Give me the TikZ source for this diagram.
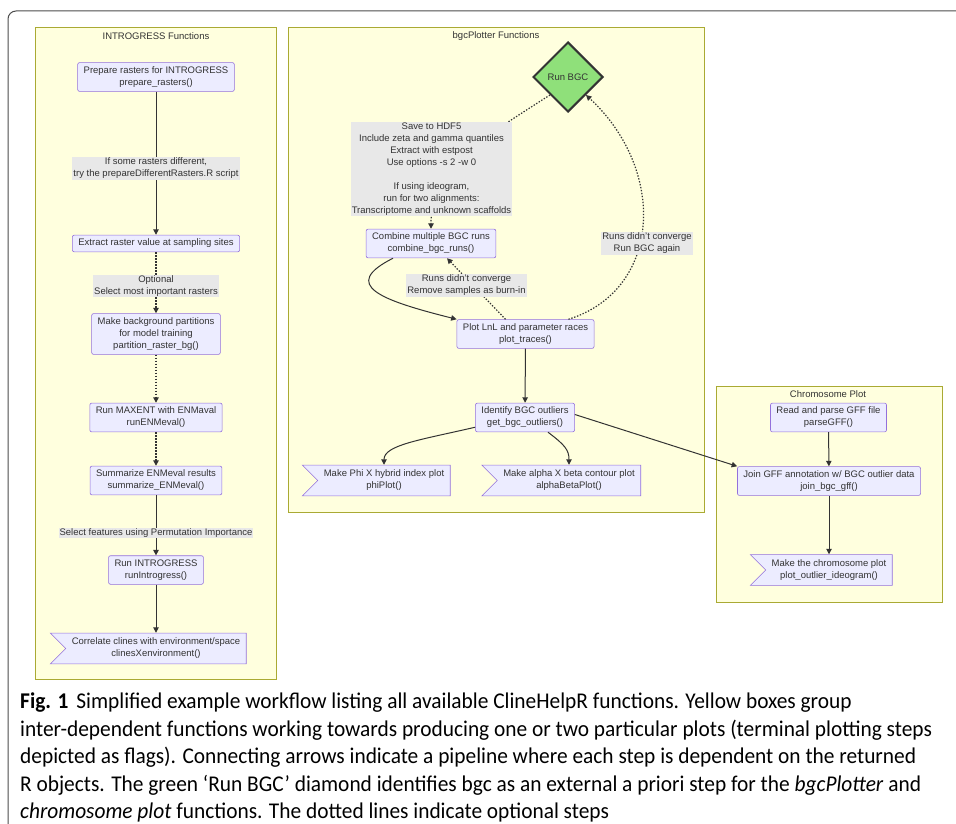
\documentclass[tikz,border=0pt]{standalone}
\usepackage{fontspec}
\setmainfont{Liberation Sans}
\newfontfamily\capfont[FakeStretch=0.95]{Carlito}
\usetikzlibrary{arrows.meta,shapes.geometric,shapes.symbols}
\definecolor{grpfill}{HTML}{FFFFDE}
\definecolor{grpline}{HTML}{AAAA33}
\definecolor{boxfill}{HTML}{ECECFF}
\definecolor{boxline}{HTML}{9370DB}
\definecolor{lblfill}{HTML}{E8E8E8}
\definecolor{edgecol}{HTML}{333333}
\definecolor{bgcgreen}{HTML}{8FE07A}
\begin{document}
\begin{tikzpicture}[
  x=1pt,
  y=-1pt,
  font=\fontsize{9.5}{12}\selectfont,
  group/.style={draw=grpline, fill=grpfill, line width=0.6pt},
  grouptitle/.style={text=edgecol, inner sep=0pt},
  func/.style={draw=boxline, fill=boxfill, rounded corners=2pt, align=center,
    text=edgecol, inner xsep=6pt, inner ysep=4pt, line width=0.6pt},
  flag/.style={draw=boxline, fill=boxfill, align=center, text=edgecol,
    inner xsep=6pt, inner ysep=5pt, line width=0.6pt,
    shape=signal, signal from=west, signal to=nowhere},
  decision/.style={shape=diamond, draw=edgecol, fill=bgcgreen, line width=2pt,
    minimum width=70pt, minimum height=70pt, inner sep=0pt, text=edgecol},
  edgelbl/.style={fill=lblfill, align=center, text=edgecol, inner sep=1pt},
  flow/.style={draw=edgecol, line width=1pt, -{Triangle[length=5.5pt,width=5.5pt]}},
  opt/.style={flow, dash pattern=on 1.4pt off 1.6pt, line width=1.2pt}
]
\clip (0,0) rectangle (956,824);
\draw[black!70, line width=1pt, rounded corners=8pt]
  (970,11) -- (8,11) -- (8,832) -- (40,832);

\draw[group] (35,27) rectangle (276,679);
\node[grouptitle] (introtitle) at (156,36) {INTROGRESS Functions};
\draw[group] (288,27) rectangle (704,512);
\node[grouptitle] (bgctitle) at (496,36) {bgcPlotter Functions};
\draw[group] (716,386) rectangle (942,602);
\node[grouptitle] (chromtitle) at (828,394) {Chromosome Plot};

\node[func] (prep) at (156,77) {Prepare rasters for INTROGRESS\\prepare\_rasters()};
\node[func] (extract) at (156,243.5) {Extract raster value at sampling sites};
\node[func] (partition) at (156,334) {Make background partitions\\for model training\\partition\_raster\_bg()};
\node[func] (maxent) at (156,417.5) {Run MAXENT with ENMaval\\runENMeval()};
\node[func] (summarize) at (156,480.5) {Summarize ENMeval results\\summarize\_ENMeval()};
\node[func] (runintro) at (156,570) {Run INTROGRESS\\runIntrogress()};
\node[flag] (correlate) at (156,648.5) {Correlate clines with environment/space\\clinesXenvironment()};

\node[decision] (bgc) at (568,77) {Run BGC};
\node[func] (combine) at (431,243.5) {Combine multiple BGC runs\\combine\_bgc\_runs()};
\node[func] (traces) at (525.5,334) {Plot LnL and parameter races\\plot\_traces()};
\node[func] (outliers) at (525,417.5) {Identify BGC outliers\\get\_bgc\_outliers()};
\node[flag] (phi) at (384,480.5) {Make Phi X hybrid index plot\\phiPlot()};
\node[flag] (alpha) at (569,480.5) {Make alpha X beta contour plot\\alphaBetaPlot()};

\node[func] (parse) at (828.5,417.5) {Read and parse GFF file\\parseGFF()};
\node[func] (join) at (829,481) {Join GFF annotation w/ BGC outlier data\\join\_bgc\_gff()};
\node[flag] (ideo) at (829,570) {Make the chromosome plot\\plot\_outlier\_ideogram()};

\draw[flow] (prep) -- (extract);
\draw[opt] (extract) -- (partition);
\draw[opt] (partition) -- (maxent);
\draw[opt] (maxent) -- (summarize);
\draw[flow] (summarize) -- (runintro);
\draw[flow] (runintro.south) -- (runintro.south |- correlate.north);

\draw[opt] (bgc.south west) .. controls (470,146) and (431,170) .. (combine.north);
\draw[flow] ([xshift=-38pt]combine.south) .. controls (340,285) and (380,300) .. (traces.north west);
\draw[opt] ([xshift=-20pt]traces.north) -- ([xshift=16pt]combine.south);
\draw[opt] ([xshift=43pt]traces.north) .. controls (662,290) and (667,170) .. (bgc.south east);
\draw[flow] (traces) -- (outliers);
\draw[flow] ([yshift=5pt]outliers.south west) .. controls (420,440) and (384,445) .. (phi.north);
\draw[flow] ([xshift=23pt]outliers.south) .. controls (565,445) and (569,450) .. (alpha.north);
\draw[flow] ([yshift=3pt]outliers.east) -- (join.north west);

\draw[flow] (parse) -- (join);
\draw[flow] (join.south) -- (join.south |- ideo.north);

\node[edgelbl] (lblraster) at (156,168.5) {If some rasters different,\\try the prepareDifferentRasters.R script};
\node[edgelbl] (lblopt) at (156,286) {Optional\\Select most important rasters};
\node[edgelbl] (lblperm) at (156,533) {Select features using Permutation Importance};
\node[edgelbl] (lblhdf) at (431.5,169) {Save to HDF5\\Include zeta and gamma quantiles\\Extract with estpost\\Use options -s 2 -w 0\\\mbox{}\\If using ideogram,\\run for two alignments:\\Transcriptome and unknown scaffolds};
\node[edgelbl] (lblburn) at (466.5,285.5) {Runs didn't converge\\Remove samples as burn-in};
\node[edgelbl] (lblagain) at (647,243.5) {Runs didn't converge\\Run BGC again};

\node[anchor=base west, align=left, inner sep=0pt, text=black,
  font=\capfont\fontsize{22.5}{27.5}\selectfont] (caption) at (20,818.5)
  {\textbf{Fig. 1}\hspace{8pt}Simplified example workflow listing all available ClineHelpR functions. Yellow boxes group\\
   inter-dependent functions working towards producing one or two particular plots (terminal plotting steps\\
   depicted as flags). Connecting arrows indicate a pipeline where each step is dependent on the returned\\
   R objects. The green ‘Run BGC’ diamond identifies bgc as an external a priori step for the \textit{bgcPlotter} and\\
   \textit{chromosome plot} functions. The dotted lines indicate optional steps};
\end{tikzpicture}
\end{document}
